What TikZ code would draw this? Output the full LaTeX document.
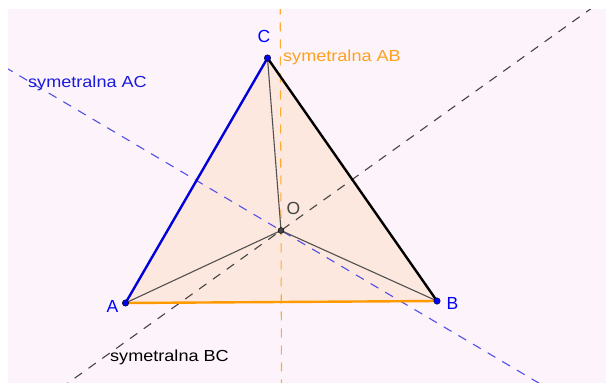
\documentclass[tikz,border=0pt]{standalone}
\usepackage{fontspec}
\setmainfont{Liberation Sans}
\newfontfamily\labfont[FakeStretch=1.13]{Liberation Sans}
\usetikzlibrary{calc}
\definecolor{bgpink}{HTML}{FDF4FB}
\definecolor{trifill}{HTML}{FCE8DE}
\definecolor{ggblue}{HTML}{0000FF}
\definecolor{ggbluetext}{HTML}{1A1AD9}
\definecolor{ggorange}{HTML}{FF9900}
\definecolor{ggorangetext}{HTML}{FFA01E}
\definecolor{dashblue}{HTML}{5050E6}
\definecolor{dashorange}{HTML}{FFAA33}
\definecolor{dashblack}{HTML}{444444}
\definecolor{segray}{HTML}{505050}
\tikzset{
  bisector/.style={dash pattern=on 9pt off 8pt, line width=1.1pt},
  side/.style={line width=2.4pt, line cap=round},
  radius seg/.style={segray, line width=1.1pt},
  pt/.style={circle, fill=ggblue, draw=black, line width=0.4pt, inner sep=0pt, minimum size=6.5pt},
  ptO/.style={circle, fill=dashblack, draw=black, line width=0.4pt, inner sep=0pt, minimum size=6pt},
  vlabel/.style={inner sep=0pt, anchor=base west, font=\fontsize{17.5}{20}\selectfont},
  llabel/.style={inner sep=0pt, anchor=base west, font=\labfont\fontsize{16}{19}\selectfont}
}
\begin{document}
\begin{tikzpicture}[x=1pt,y=1pt]
\useasboundingbox (0,0) rectangle (606,-383);
\fill[bgpink] (8,-9) rectangle (606,-383);
% points
\coordinate (A) at (125.5,-303);
\coordinate (B) at (437,-301);
\coordinate (C) at (267.5,-58);
\coordinate (O) at (281,-230.5);
\coordinate (mAC) at ($(A)!0.5!(C)$);
\coordinate (mBC) at ($(B)!0.5!(C)$);
\coordinate (mAB) at ($(A)!0.5!(B)$);
% triangle fill
\fill[trifill] (A) -- (B) -- (C) -- cycle;
% perpendicular bisectors
\begin{scope}
\clip (8,-9) rectangle (606,-383);
\draw[bisector, dashblue] ($(O)!-6!(mAC)$) -- ($(O)!6!(mAC)$);
\draw[bisector, dashblack] ($(O)!-6!(mBC)$) -- ($(O)!6!(mBC)$);
\draw[bisector, dashorange] ($(O)!-6!(mAB)$) -- ($(O)!6!(mAB)$);
\end{scope}
% segments from O
\draw[radius seg] (O) -- (A);
\draw[radius seg] (O) -- (B);
\draw[radius seg] (O) -- (C);
% sides
\draw[side, ggorange] (A) -- (B);
\draw[side, black] (B) -- (C);
\draw[side, ggblue!85!black] (C) -- (A);
% point markers
\node[pt] (pA) at (A) {};
\node[pt] (pB) at (B) {};
\node[pt] (pC) at (C) {};
\node[ptO] (pO) at (O) {};
% labels
\node[vlabel, text=ggblue] (lA) at (106.5,-312.3) {A};
\node[vlabel, text=ggblue] (lB) at (446.5,-309) {B};
\node[vlabel, text=ggblue] (lC) at (257.5,-42.7) {C};
\node[vlabel, text=dashblack] (lO) at (286.5,-214) {O};
\node[llabel, text=ggbluetext] (sAC) at (28,-87.5) {symetralna AC};
\node[llabel, text=ggorangetext] (sAB) at (283,-61.3) {symetralna AB};
\node[llabel, text=black] (sBC) at (110,-361.7) {symetralna BC};
\end{tikzpicture}
\end{document}
